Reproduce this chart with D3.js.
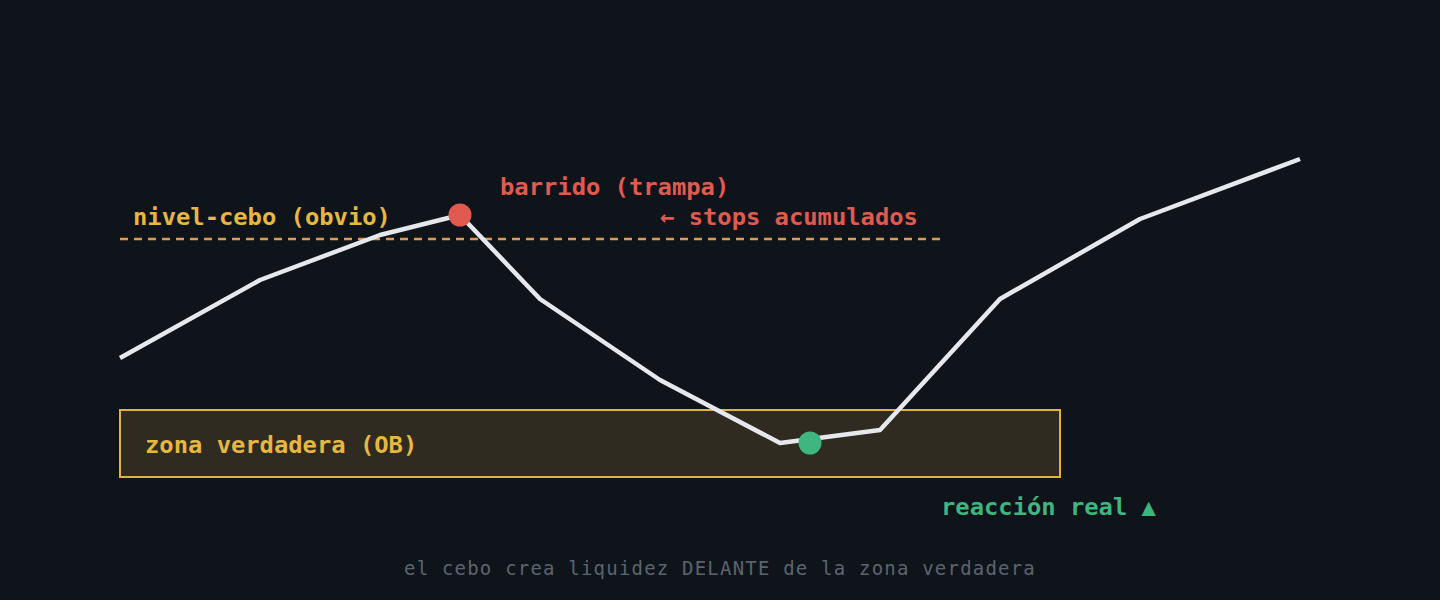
<!DOCTYPE html>
<html>
<head>
<meta charset="utf-8">
<script src="https://cdn.jsdelivr.net/npm/d3@7"></script>
<style>
  html, body { margin: 0; padding: 0; background: #0f141b; }
  svg { display: block; }
</style>
</head>
<body>
<div id="canvas"></div>
<script>
"use strict"

// price path (time step, price)
let times = [0, 14, 26, 34, 42, 54, 66, 76, 88, 102, 118];
let prices = [35.5, 55, 66.25, 71.25, 50.25, 30, 14.25, 17.5, 50.25, 70.25, 85.25];

let baitLevel = 65.25;
let baitEnd = 82;
let zoneTop = 22.5;
let zoneBottom = 5.75;
let zoneEnd = 94;
let sweepPoint = [34, 71.25];
let reactionPoint = [69, 14.25];

let width = 1440;
let height = 600;

let x = d3.scaleLinear().domain([0, 118]).range([120, 1300]);
let y = d3.scaleLinear().domain([0, 100]).range([500, 100]);

let svg = d3.select("#canvas")
    .append("svg")
    .attr("width", width)
    .attr("height", height);

svg.append("rect")
    .attr("width", width)
    .attr("height", height)
    .attr("fill", "#0f141b");

let mono = "'DejaVu Sans Mono', monospace";

// true zone (order block)
svg.append("rect")
    .attr("x", x(0))
    .attr("y", y(zoneTop))
    .attr("width", x(zoneEnd) - x(0))
    .attr("height", y(zoneBottom) - y(zoneTop))
    .attr("fill", "#2f2b21")
    .attr("stroke", "#e0b23e")
    .attr("stroke-width", 2);

// bait level
svg.append("line")
    .attr("x1", x(0))
    .attr("x2", x(baitEnd))
    .attr("y1", y(baitLevel))
    .attr("y2", y(baitLevel))
    .attr("stroke", "#d99b55")
    .attr("stroke-width", 2.5)
    .attr("stroke-dasharray", "8,6");

let line = d3.line()
    .x((d, i) => x(times[i]))
    .y(d => y(d));

svg.append("path")
    .datum(prices)
    .attr("d", line)
    .attr("fill", "none")
    .attr("stroke", "#e6e8ee")
    .attr("stroke-width", 4.5)
    .attr("stroke-linejoin", "round");

svg.append("circle")
    .attr("cx", x(sweepPoint[0]))
    .attr("cy", y(sweepPoint[1]))
    .attr("r", 11.5)
    .attr("fill", "#e05a50");

svg.append("circle")
    .attr("cx", x(reactionPoint[0]))
    .attr("cy", y(reactionPoint[1]))
    .attr("r", 11.5)
    .attr("fill", "#3fb57f");

function label(txt, px, py, color) {
    svg.append("text")
        .attr("x", px)
        .attr("y", py)
        .attr("fill", color)
        .attr("font-family", mono)
        .attr("font-weight", "bold")
        .attr("font-size", 23.8)
        .text(txt);
}

label("nivel-cebo (obvio)", 133, 225, "#e6b840");
label("barrido (trampa)", 500, 195, "#e05a50");
label("← stops acumulados", 660, 225, "#e05a50");
label("zona verdadera (OB)", 145, 453, "#e6b840");
label("reacción real ▲", 941, 515, "#3fb57f");

svg.append("text")
    .attr("x", 720)
    .attr("y", 575)
    .attr("text-anchor", "middle")
    .attr("fill", "#5c6470")
    .attr("font-family", mono)
    .attr("font-size", 19)
    .attr("letter-spacing", 1.2)
    .text("el cebo crea liquidez DELANTE de la zona verdadera");
</script>
</body>
</html>
